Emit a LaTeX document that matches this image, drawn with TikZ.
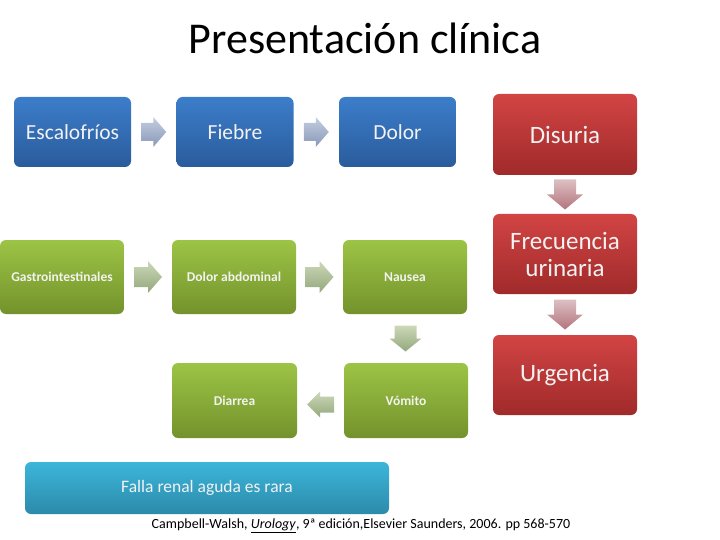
\documentclass[tikz,border=0pt]{standalone}
\usepackage{fontspec}
\setmainfont{Carlito}
\usetikzlibrary{calc}
\definecolor{blue1}{HTML}{3C7DCA}
\definecolor{blue2}{HTML}{2A5C9C}
\definecolor{green1}{HTML}{9CC445}
\definecolor{green2}{HTML}{74922C}
\definecolor{red1}{HTML}{D24444}
\definecolor{red2}{HTML}{A02A2A}
\definecolor{cyan1}{HTML}{3CB6DA}
\definecolor{cyan2}{HTML}{2C8AAA}
\definecolor{barr1}{HTML}{C4CEE0}
\definecolor{barr2}{HTML}{8898B8}
\definecolor{garr1}{HTML}{CCD8B8}
\definecolor{garr2}{HTML}{94A87C}
\definecolor{rarr1}{HTML}{DCC0C4}
\definecolor{rarr2}{HTML}{B4747C}
\tikzset{
  box/.style={rounded corners=6pt, inner sep=2pt, align=center, text=white!95!black},
  bluebox/.style={box, top color=blue1, bottom color=blue2, minimum width=117pt, minimum height=70pt, font=\fontsize{21.5}{24}\selectfont},
  greenbox/.style={box, top color=green1, bottom color=green2, minimum width=124pt, minimum height=74pt, font=\bfseries\fontsize{13.5}{16}\selectfont},
  redbox/.style={box, top color=red1, bottom color=red2, minimum width=144pt, minimum height=81pt, font=\fontsize{25}{27}\selectfont},
  barbox/.style={box, top color=cyan1, bottom color=cyan2, minimum width=364pt, minimum height=52pt, font=\fontsize{17.5}{20}\selectfont},
  barrow/.style={top color=barr1, bottom color=barr2},
  garrow/.style={top color=garr1, bottom color=garr2},
  rarrow/.style={top color=rarr1, bottom color=rarr2},
  pics/rightarr/.style n args={4}{code={
    \path[pic actions] ({-(#1+#2)/2},-#3) -- ({(#1-#2)/2},-#3) -- ({(#1-#2)/2},-#4) -- ({(#1+#2)/2},0)
      -- ({(#1-#2)/2},#4) -- ({(#1-#2)/2},#3) -- ({-(#1+#2)/2},#3) -- cycle;}},
  pics/leftarr/.style n args={4}{code={
    \path[pic actions] ({(#1+#2)/2},-#3) -- ({-(#1-#2)/2},-#3) -- ({-(#1-#2)/2},-#4) -- ({-(#1+#2)/2},0)
      -- ({-(#1-#2)/2},#4) -- ({-(#1-#2)/2},#3) -- ({(#1+#2)/2},#3) -- cycle;}},
  pics/downarr/.style n args={4}{code={
    \path[pic actions] (-#3,{-(#1+#2)/2}) -- (-#3,{(#1-#2)/2}) -- (-#4,{(#1-#2)/2}) -- (0,{(#1+#2)/2})
      -- (#4,{(#1-#2)/2}) -- (#3,{(#1-#2)/2}) -- (#3,{-(#1+#2)/2}) -- cycle;}},
}
\begin{document}
\begin{tikzpicture}[x=1pt,y=-1pt]
\useasboundingbox (0,0) rectangle (720,540);
\node (title) at (365,38) {\fontsize{44}{48}\selectfont Presentación clínica};
% blue row
\node[bluebox] (esc) at (72.5,132) {Escalofríos};
\node[bluebox] (fie) at (235,132) {Fiebre};
\node[bluebox] (dol) at (397.5,132) {Dolor};
% green
\node[greenbox] (gas) at (62,277) {Gastrointestinales};
\node[greenbox] (abd) at (234,277) {Dolor abdominal};
\node[greenbox] (nau) at (405,277) {Nausea};
\node[greenbox, minimum width=125pt, minimum height=75pt] (dia) at (234.5,400.5) {Diarrea};
\node[greenbox, minimum width=124pt, minimum height=75pt] (vom) at (406,400.5) {Vómito};
% red
\node[redbox] (dis) at (565,134.5) {Disuria};
\node[redbox, minimum height=80pt] (fre) at (565,254) {Frecuencia\\urinaria};
\node[redbox, minimum height=80pt] (urg) at (565,375) {Urgencia};
% bar
\node[barbox] (bar) at (207,488) {Falla renal aguda es rara};
\node (cit) at (361,526) {\fontsize{14}{16}\selectfont Campbell-Walsh, \underline{\textit{Urology}}, 9ª edición,Elsevier Saunders, 2006. pp 568-570};
% block arrows
\pic[barrow] at ($(esc.east)!0.5!(fie.west)$) {rightarr={12}{13}{9}{15}};
\pic[barrow] at ($(fie.east)!0.5!(dol.west)$) {rightarr={12}{13}{9}{15}};
\pic[garrow] at ($(gas.east)!0.5!(abd.west)$) {rightarr={14}{14}{10}{16}};
\pic[garrow] at ($(abd.east)!0.5!(nau.west)$) {rightarr={14}{14}{10}{16}};
\pic[garrow] at ($(nau.south)!0.5!(vom.north)$) {downarr={13}{13}{11}{16}};
\pic[garrow] at ($(vom.west)!0.5!(dia.east)+(0,4)$) {leftarr={14}{13}{8}{13}};
\pic[rarrow] at ($(dis.south)!0.5!(fre.north)$) {downarr={15}{15}{11}{18}};
\pic[rarrow] at ($(fre.south)!0.5!(urg.north)$) {downarr={15}{15}{11}{18}};
\end{tikzpicture}
\end{document}
